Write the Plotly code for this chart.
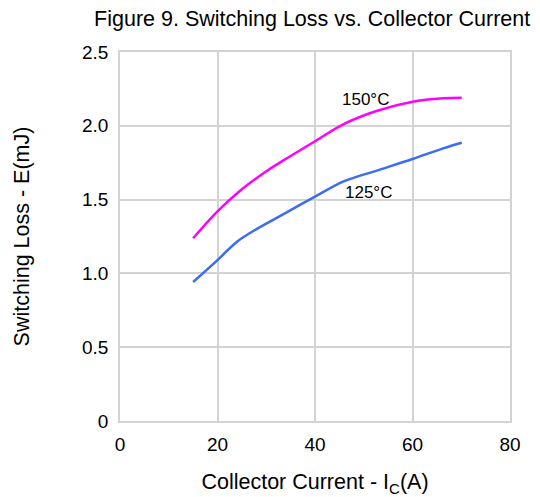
import plotly.graph_objects as go

# Collector current (A) and switching loss (mJ)
ic_150 = [15.0, 20.0, 25.0, 30.4, 35.0, 40.0, 45.8, 52.6, 60.0, 66.3, 70.1]
e_150 = [1.238, 1.42, 1.57, 1.70, 1.795, 1.895, 2.01, 2.10, 2.163, 2.186, 2.19]

ic_125 = [15.0, 20.0, 24.0, 28.0, 34.0, 40.0, 46.0, 53.0, 60.0, 66.3, 70.1]
e_125 = [0.942, 1.09, 1.215, 1.30, 1.41, 1.52, 1.625, 1.70, 1.775, 1.847, 1.885]

x_ticks = [0, 20, 40, 60, 80]
y_ticks = [0, 0.5, 1.0, 1.5, 2.0, 2.5]
y_tick_text = ["0", "0.5", "1.0", "1.5", "2.0", "2.5"]

FONT = "Liberation Sans, Arial, sans-serif"
GRID = "#d3d3d3"

fig = go.Figure()
fig.add_trace(go.Scatter(x=ic_150, y=e_150, mode="lines",
                         line=dict(color="#ff00ff", width=2.5, shape="spline",
                                   smoothing=1.0),
                         name="150°C"))
fig.add_trace(go.Scatter(x=ic_125, y=e_125, mode="lines",
                         line=dict(color="#3a6cf4", width=2.5, shape="spline",
                                   smoothing=1.0),
                         name="125°C"))

fig.add_annotation(x=50.3, y=2.175, text="150°C", showarrow=False,
                   font=dict(size=17, color="#000000", family=FONT))
fig.add_annotation(x=51.0, y=1.55, text="125°C", showarrow=False,
                   font=dict(size=17, color="#000000", family=FONT))

fig.update_layout(
    width=540, height=497,
    margin=dict(l=120, r=30, t=52, b=76),
    paper_bgcolor="white", plot_bgcolor="white",
    showlegend=False,
    font=dict(family=FONT, color="#000000", size=19),
    title=dict(text="Figure 9. Switching Loss vs. Collector Current",
               xref="container", yref="container",
               x=0.982, xanchor="right", y=1 - 18.5 / 497, yanchor="middle",
               font=dict(size=21.5, family=FONT, color="#000000")),
)
fig.update_xaxes(range=[0, 80], tickvals=x_ticks, showgrid=True, gridcolor=GRID,
                 gridwidth=1.5, showline=True, linecolor=GRID, linewidth=1.5,
                 mirror=True, zeroline=False, ticks="", automargin=False,
                 ticklabelstandoff=5, tickfont=dict(size=19),
                 title=dict(text="Collector Current - I<sub>C</sub>(A)",
                            font=dict(size=21.5), standoff=24))
fig.update_yaxes(range=[0, 2.5], tickvals=y_ticks, ticktext=y_tick_text,
                 showgrid=True, gridcolor=GRID, gridwidth=1.5,
                 showline=True, linecolor=GRID, linewidth=1.5, mirror=True,
                 zeroline=False, ticks="", automargin=False,
                 ticklabelstandoff=6, tickfont=dict(size=19),
                 title=dict(text="Switching Loss - E(mJ)",
                            font=dict(size=21.5), standoff=47))

fig.write_html("out.html")
